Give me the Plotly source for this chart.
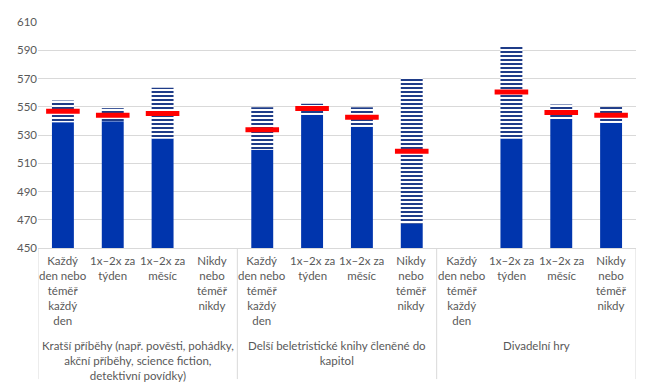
import plotly.graph_objects as go

categories = ["Každý<br>den nebo<br>téměř<br>každý<br>den", "1x–2x za<br>týden", "1x–2x za<br>měsíc", "Nikdy<br>nebo<br>téměř<br>nikdy"] * 3
groups = ["Kratší příběhy (např. pověsti, pohádky,<br>akční příběhy, science fiction,<br>detektivní povídky)",
          "Delší beletristické knihy členěné do<br>kapitol",
          "Divadelní hry"]
lower = [539.1, 539.8, 527.6, None, 519.6, 544.3, 535.8, 467.2, None, 527.6, 541.3, 538.6]
upper = [554.4, 549.0, 563.5, None, 549.6, 552.1, 549.6, 571.1, None, 593.3, 551.6, 549.8]
mean = [546.8, 544.0, 545.2, None, 533.8, 548.7, 542.5, 518.5, None, 560.4, 546.0, 543.9]
y_min, y_max, y_step = 450, 610, 20

xs = list(range(len(categories)))
FONT = "Lato"
GRAY = "#595959"
GRID = "#D9D9D9"

solid_h = [None if v is None else v - y_min for v in lower]
stripe_h = [None if (a is None or b is None) else b - a for a, b in zip(lower, upper)]

fig = go.Figure()
fig.add_trace(go.Bar(x=xs, y=solid_h, base=y_min, width=0.44,
                     marker=dict(color="#0035AD", line=dict(width=0)), showlegend=False))
fig.add_trace(go.Bar(x=xs, y=stripe_h, base=lower, width=0.44,
                     marker=dict(color="white", line=dict(width=0),
                                 pattern=dict(shape="-", fgcolor="#1F3C88", bgcolor="white",
                                              size=4, solidity=0.5, fgopacity=1)),
                     showlegend=False))
fig.add_trace(go.Scatter(x=xs, y=mean, mode="markers",
                         marker=dict(symbol="line-ew", size=24,
                                     line=dict(width=5, color="#FF0000"), color="#FF0000"),
                         showlegend=False))

annotations = []
for i, c in enumerate(categories):
    annotations.append(dict(x=i, y=0, xref="x", yref="paper", yanchor="top", yshift=-4,
                            text=c, showarrow=False, align="center",
                            font=dict(family=FONT, size=11.5, color=GRAY)))
for g, name in enumerate(groups):
    annotations.append(dict(x=g * 4 + 1.5, y=0, xref="x", yref="paper", yanchor="top", yshift=-89,
                            text=name, showarrow=False, align="center",
                            font=dict(family=FONT, size=11.5, color=GRAY)))

shapes = []
for xv in [-0.5, 3.5, 7.5, 11.5]:
    shapes.append(dict(type="line", xref="x", yref="paper", x0=xv, x1=xv, y0=0, y1=-0.58,
                       line=dict(color=GRID, width=1)))

# page body has an 8px default margin, so the figure is sized to fit the window
fig.update_layout(
    width=641, height=382,
    margin=dict(l=30, r=13, t=7, b=142),
    plot_bgcolor="white", paper_bgcolor="white",
    barmode="overlay",
    annotations=annotations, shapes=shapes,
    xaxis=dict(range=[-0.5, 11.5], showticklabels=False, showgrid=False, zeroline=False,
               showline=True, linecolor=GRID, linewidth=1, ticks=""),
    yaxis=dict(range=[y_min, y_max], dtick=y_step, tick0=y_min, showgrid=True, gridcolor=GRID,
               zeroline=False, showline=False, ticks="",
               tickfont=dict(family=FONT, size=11.5, color=GRAY)),
)
fig.write_html("out.html")
